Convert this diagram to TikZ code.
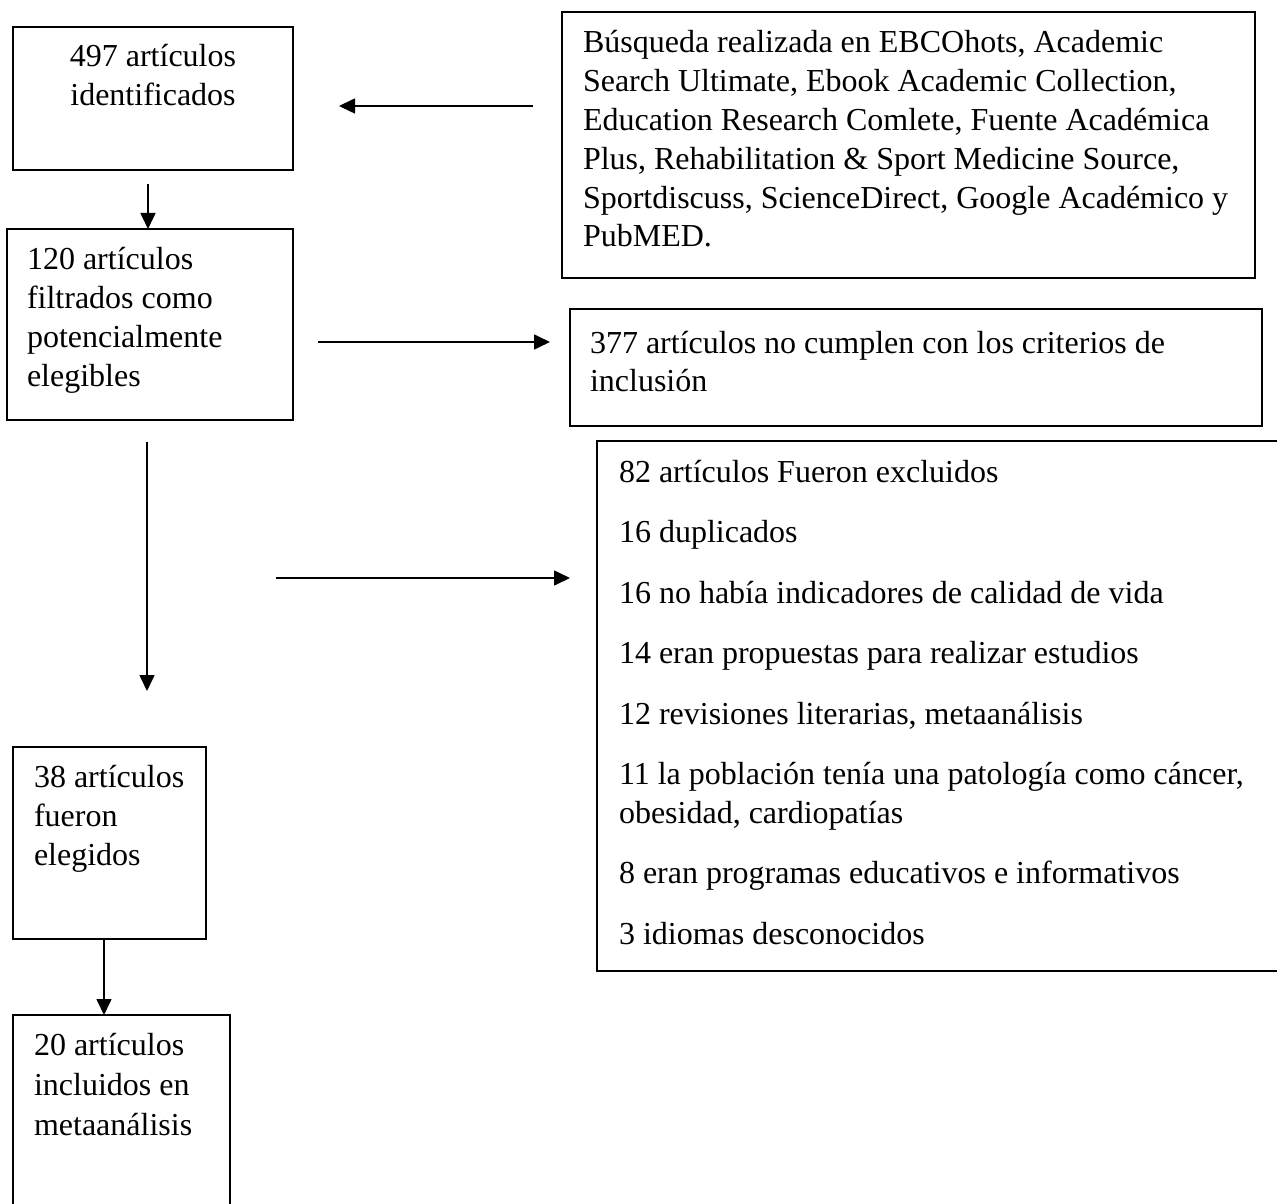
\documentclass[tikz,border=0pt]{standalone}
\usepackage{fontspec}
\setmainfont{Liberation Serif}
\usetikzlibrary{arrows.meta}
\begin{document}
\begin{tikzpicture}[x=0.5pt,y=-0.5pt,
  box/.style={draw, line width=1pt, inner sep=0pt, outer sep=0pt, anchor=north west},
  txt/.style={inner sep=0pt, outer sep=0pt, anchor=base west, font=\fontsize{16pt}{19.4pt}\selectfont},
  arr/.style={line width=0.8pt, -{Triangle[length=8pt,width=7.5pt]}}]
\useasboundingbox (0,0) rectangle (1277,1203);
\clip (0,0) rectangle (1277,1203);
\fill[white] (0,0) rectangle (1277,1203);
% boxes
\node[box, minimum width=140pt, minimum height=71.5pt] (A) at (13,27) {};
\node[box, minimum width=143pt, minimum height=95.5pt] (B) at (7,229) {};
\node[box, minimum width=346.5pt, minimum height=133pt] (C) at (562,12) {};
\node[box, minimum width=346pt, minimum height=58.5pt] (D) at (570,309) {};
\node[box, minimum width=346.5pt, minimum height=265pt] (E) at (597,441) {};
\node[box, minimum width=96.5pt, minimum height=96pt] (F) at (13,747) {};
\node[box, minimum width=108.5pt, minimum height=107.5pt] (G) at (13,1015) {};
% texts
\node[txt, anchor=base] (tA) at (153,67) {\parbox[t]{130pt}{\centering 497 artículos\\identificados}};
\node[txt] (tB) at (27,270) {\parbox[t]{200pt}{\raggedright 120 artículos\\filtrados como\\potencialmente\\elegibles}};
\node[txt] (tC) at (583,53) {\parbox[t]{400pt}{\raggedright Búsqueda realizada en EBCOhots, Academic\\Search Ultimate, Ebook Academic Collection,\\Education Research Comlete, Fuente Académica\\Plus, Rehabilitation \& Sport Medicine Source,\\Sportdiscuss, ScienceDirect, Google Académico y\\PubMED.}};
\node[txt] (tD) at (590,353) {\parbox[t]{400pt}{\raggedright 377 artículos no cumplen con los criterios de\\inclusión}};
\node[txt] (tE) at (619,482) {\parbox[t]{400pt}{\raggedright 82 artículos Fueron excluidos\\[10.85pt]16 duplicados\\[10.85pt]16 no había indicadores de calidad de vida\\[10.85pt]14 eran propuestas para realizar estudios\\[10.85pt]12 revisiones literarias, metaanálisis\\[10.85pt]11 la población tenía una patología como cáncer,\\obesidad, cardiopatías\\[10.85pt]8 eran programas educativos e informativos\\[10.85pt]3 idiomas desconocidos}};
\node[txt] (tF) at (34,787) {\parbox[t]{200pt}{\raggedright\fontsize{16pt}{19.7pt}\selectfont 38 artículos\\fueron\\elegidos}};
\node[txt] (tG) at (34,1055) {\parbox[t]{200pt}{\raggedright\fontsize{16pt}{20pt}\selectfont 20 artículos\\incluidos en\\metaanálisis}};
% connectors
\coordinate (split) at (275.5,578);
\draw[arr, shorten <=7pt] (A.south -| 148,0) -- (B.north -| 148,0);
\draw[arr, shorten <=14.5pt, shorten >=23pt] (C.west |- 0,106) -- (A.east |- 0,106);
\draw[arr, shorten <=12.5pt, shorten >=10pt] (B.east |- 0,342) -- (D.west |- 0,342);
\draw[arr, shorten <=11pt, shorten >=28pt] (B.south -| 147,0) -- (F.north -| 147,0);
\draw[arr, shorten >=13.5pt] (split) -- (E.west |- split);
\draw[arr] (F.south -| 104,0) -- (G.north -| 104,0);
\end{tikzpicture}
\end{document}
